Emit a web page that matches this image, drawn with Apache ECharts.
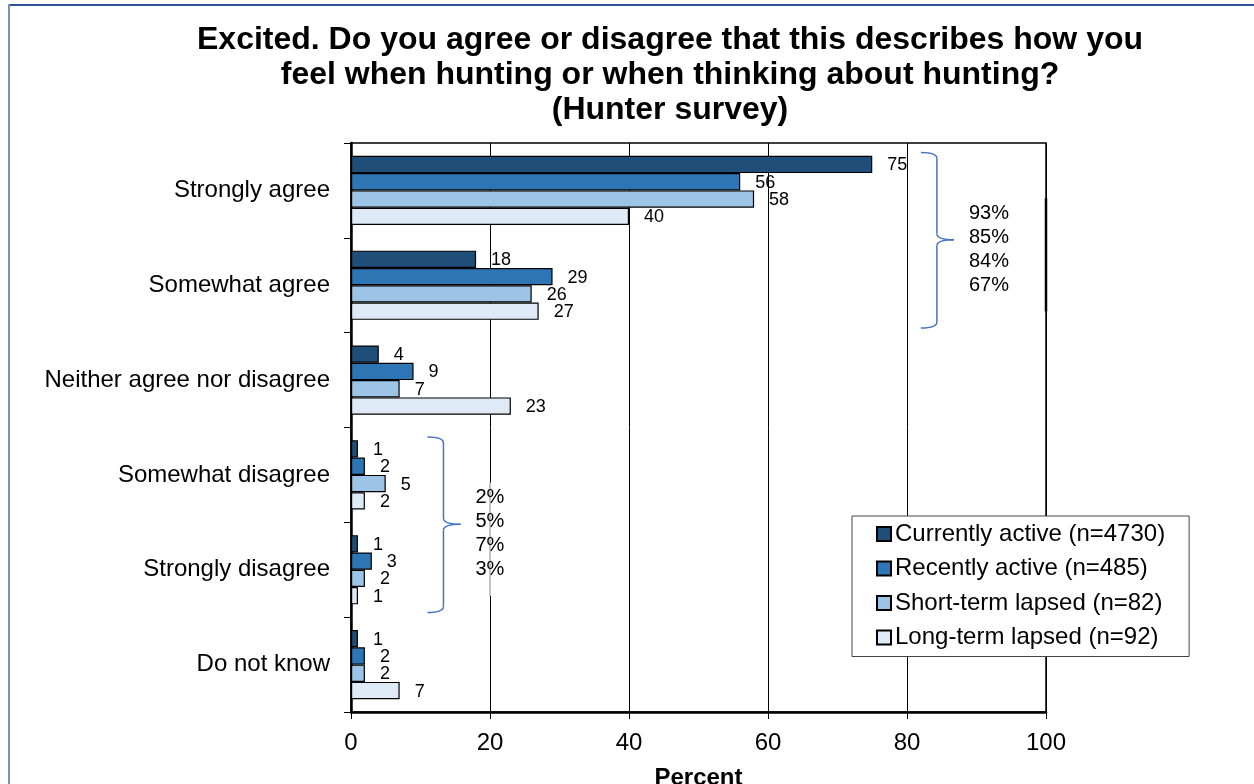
<!DOCTYPE html>
<html>
<head>
<meta charset="utf-8">
<script src="https://cdn.jsdelivr.net/npm/echarts@6/dist/echarts.min.js"></script>
<style>
  html, body { margin: 0; padding: 0; background: #ffffff; }
  #chart { width: 1254px; height: 784px; }
</style>
</head>
<body>
<div id="chart"></div>
<script>
// Survey answers (top to bottom) and the percentage of each hunter group
const categories = ['Strongly agree', 'Somewhat agree', 'Neither agree nor disagree', 'Somewhat disagree', 'Strongly disagree', 'Do not know'];
const seriesNames = ['Currently active (n=4730)', 'Recently active (n=485)', 'Short-term lapsed (n=82)', 'Long-term lapsed (n=92)'];
const currentlyActive = [75, 18, 4, 1, 1, 1];
const recentlyActive = [56, 29, 9, 2, 3, 2];
const shortTermLapsed = [58, 26, 7, 5, 2, 2];
const longTermLapsed = [40, 27, 23, 2, 1, 7];
// Combined totals shown beside the braces
const agreeTotals = ['93%', '85%', '84%', '67%'];
const disagreeTotals = ['2%', '5%', '7%', '3%'];
const xMin = 0, xMax = 100, xStep = 20;

const FONT = '"Liberation Sans", Arial, sans-serif';
const colors = ['#1f4e79', '#2e75b6', '#9dc3e6', '#deebf7'];
const values = [currentlyActive, recentlyActive, shortTermLapsed, longTermLapsed];

const chart = echarts.init(document.getElementById('chart'), null, { renderer: 'canvas' });

const series = seriesNames.map((name, i) => ({
  name: name,
  type: 'bar',
  data: values[i],
  barWidth: 17.3,
  barGap: '0%',
  itemStyle: { color: colors[i], borderColor: '#000', borderWidth: 1.2 },
  label: {
    show: true,
    position: 'right',
    distance: 15,
    offset: [0, 1],
    color: '#000',
    fontFamily: FONT,
    fontSize: 18
  },
  emphasis: { disabled: true },
  animation: false
}));

chart.setOption({
  animation: false,
  backgroundColor: '#ffffff',
  title: {
    text: 'Excited. Do you agree or disagree that this describes how you\nfeel when hunting or when thinking about hunting?\n(Hunter survey)',
    left: 670,
    top: 23,
    padding: 0,
    textAlign: 'center',
    textStyle: { fontFamily: FONT, fontWeight: 'bold', fontSize: 32, lineHeight: 35, color: '#000' }
  },
  grid: {
    left: 351, right: 208, top: 143, bottom: 72,
    outerBoundsMode: 'none',
    containLabel: false,
    show: true, borderColor: '#000', borderWidth: 1.5, backgroundColor: 'transparent'
  },
  legend: {
    orient: 'vertical',
    left: 852,
    top: 516,
    padding: [6, 24, 7, 24],
    itemWidth: 14,
    itemHeight: 14,
    itemGap: 10.5,
    icon: 'rect',
    backgroundColor: '#fff',
    borderColor: '#444',
    borderWidth: 1,
    borderRadius: 0,
    selectedMode: false,
    textStyle: { fontFamily: FONT, fontSize: 24, lineHeight: 24, color: '#000', padding: [0, 0, 0, -1] },
    data: seriesNames
  },
  xAxis: {
    type: 'value',
    min: xMin, max: xMax, interval: xStep,
    name: 'Percent',
    nameLocation: 'middle',
    nameGap: 54,
    nameTextStyle: { fontFamily: FONT, fontWeight: 'bold', fontSize: 24, color: '#000' },
    axisLine: { show: true, lineStyle: { color: '#000', width: 2.5 } },
    axisTick: { show: true, length: 7, lineStyle: { color: '#000', width: 1 } },
    axisLabel: { fontFamily: FONT, fontSize: 24, color: '#000', margin: 19 },
    splitLine: { show: true, lineStyle: { color: '#000', width: 1 } }
  },
  yAxis: {
    type: 'category',
    inverse: true,
    data: categories,
    axisLine: { show: true, lineStyle: { color: '#000', width: 2.5 } },
    axisTick: { show: true, length: 7, lineStyle: { color: '#000', width: 1 } },
    axisLabel: { fontFamily: FONT, fontSize: 24, color: '#000', margin: 21, padding: [2, 0, 0, 0] },
    splitLine: { show: false }
  },
  series: series
});

// Braces with the combined totals, plus the page frame
function braceElements(xVal, c0, c1, texts, boxEdgeVal, boxStroke, boxWidth) {
  const band = chart.convertToPixel({ yAxisIndex: 0 }, categories[1]) - chart.convertToPixel({ yAxisIndex: 0 }, categories[0]);
  const x0 = chart.convertToPixel({ xAxisIndex: 0 }, xVal);
  const yt = chart.convertToPixel({ yAxisIndex: 0 }, categories[c0]) - band * 0.40;
  const yb = chart.convertToPixel({ yAxisIndex: 0 }, categories[c1]) + band * 0.45;
  const ym = (chart.convertToPixel({ yAxisIndex: 0 }, categories[c0]) + chart.convertToPixel({ yAxisIndex: 0 }, categories[c1])) / 2 + 2;
  const w1 = 16, w2 = 17, r = 6;
  const xs = x0 + w1, xt = xs + w2;
  const st = { stroke: '#4472c4', lineWidth: 1.5, fill: null };
  const els = [
    { type: 'bezierCurve', shape: { x1: x0, y1: yt, x2: xs, y2: yt + r, cpx1: xs, cpy1: yt }, style: st },
    { type: 'line', shape: { x1: xs, y1: yt + r, x2: xs, y2: ym - r }, style: st },
    { type: 'bezierCurve', shape: { x1: xs, y1: ym - r, x2: xt, y2: ym, cpx1: xs, cpy1: ym }, style: st },
    { type: 'bezierCurve', shape: { x1: xt, y1: ym, x2: xs, y2: ym + r, cpx1: xs, cpy1: ym }, style: st },
    { type: 'line', shape: { x1: xs, y1: ym + r, x2: xs, y2: yb - r }, style: st },
    { type: 'bezierCurve', shape: { x1: xs, y1: yb - r, x2: x0, y2: yb, cpx1: xs, cpy1: yb }, style: st }
  ];
  const tc = ym + 9.5;
  const bx = chart.convertToPixel({ xAxisIndex: 0 }, boxEdgeVal);
  if (boxStroke === '#9a9a9a') {
    els.push({ type: 'line', z: 99, shape: { x1: bx, y1: tc - 51, x2: bx, y2: tc + 62 }, style: { stroke: '#fff', lineWidth: 2 } });
  }
  els.push({ type: 'line', z: 100, shape: { x1: bx, y1: tc - 51, x2: bx, y2: tc + 62 }, style: { stroke: boxStroke, lineWidth: boxWidth } });
  els.push({
    type: 'text', z: 101,
    style: {
      text: texts.join('\n'), x: xt + 15, y: tc,
      fontFamily: FONT, fontSize: 20, lineHeight: 24, fill: '#000',
      align: 'left', verticalAlign: 'middle'
    }
  });
  return els;
}

const overlay = []
  .concat(braceElements(82, 0, 1, agreeTotals, 100, '#000', 2.5))
  .concat(braceElements(11, 3, 4, disagreeTotals, 20, '#9a9a9a', 1.2));
overlay.push({ type: 'rect', shape: { x: 8, y: 4, width: 1246, height: 2 }, style: { fill: '#2f5597' } });
overlay.push({ type: 'rect', shape: { x: 8, y: 4, width: 2, height: 780 }, style: { fill: '#7393c9' } });

chart.setOption({ graphic: { elements: overlay } });
</script>
</body>
</html>
